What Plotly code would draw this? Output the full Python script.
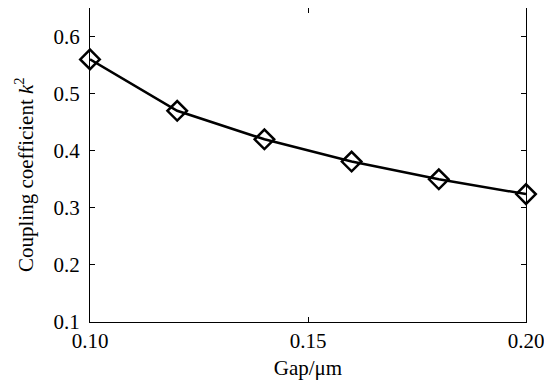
import plotly.graph_objects as go

gap = [0.10, 0.12, 0.14, 0.16, 0.18, 0.20]
k2 = [0.56, 0.47, 0.42, 0.381, 0.350, 0.324]
x_ticks = [0.10, 0.15, 0.20]
x_tick_labels = ["0.10", "0.15", "0.20"]
y_ticks = [0.1, 0.2, 0.3, 0.4, 0.5, 0.6]
y_tick_labels = ["0.1", "0.2", "0.3", "0.4", "0.5", "0.6"]
y_title = "Coupling coefficient <i>k</i><sup>2</sup>"
x_title = "Gap/μm"

FAM = "Liberation Serif"
font = dict(family=FAM, size=21, color="black")

fig = go.Figure(go.Scatter(
    x=gap, y=k2, mode="lines+markers",
    line=dict(color="black", width=2.5),
    marker=dict(symbol="diamond-open", size=15, color="black", line=dict(width=2.5, color="black")),
    cliponaxis=False,
))
# page body has an 8px margin: shrink figure so the plot frame lands where the reference has it
fig.update_layout(
    width=544, height=379, autosize=False,
    margin=dict(l=82, r=26, t=0, b=65, autoexpand=False),
    plot_bgcolor="white", paper_bgcolor="white",
    font=font, showlegend=False,
)
fig.update_xaxes(range=[0.10, 0.20], tickvals=x_ticks, ticktext=x_tick_labels, tickfont=font,
                 ticks="inside", ticklen=5, tickcolor="black", mirror="ticks",
                 showline=True, linecolor="black", linewidth=1, showgrid=False, zeroline=False,
                 title=dict(text=x_title, font=font, standoff=8))
fig.update_yaxes(range=[0.1, 0.65], tickvals=y_ticks, ticktext=y_tick_labels, tickfont=font,
                 ticks="inside", ticklen=5, tickcolor="black", mirror="ticks",
                 ticklabelstandoff=5,
                 showline=True, linecolor="black", linewidth=1, showgrid=False, zeroline=False)
fig.add_annotation(text=y_title, font=font, textangle=-90, showarrow=False,
                   xref="paper", yref="paper", x=0, y=0.468, xshift=-66,
                   xanchor="center", yanchor="middle")
fig.write_html("out.html", config={"responsive": False})
